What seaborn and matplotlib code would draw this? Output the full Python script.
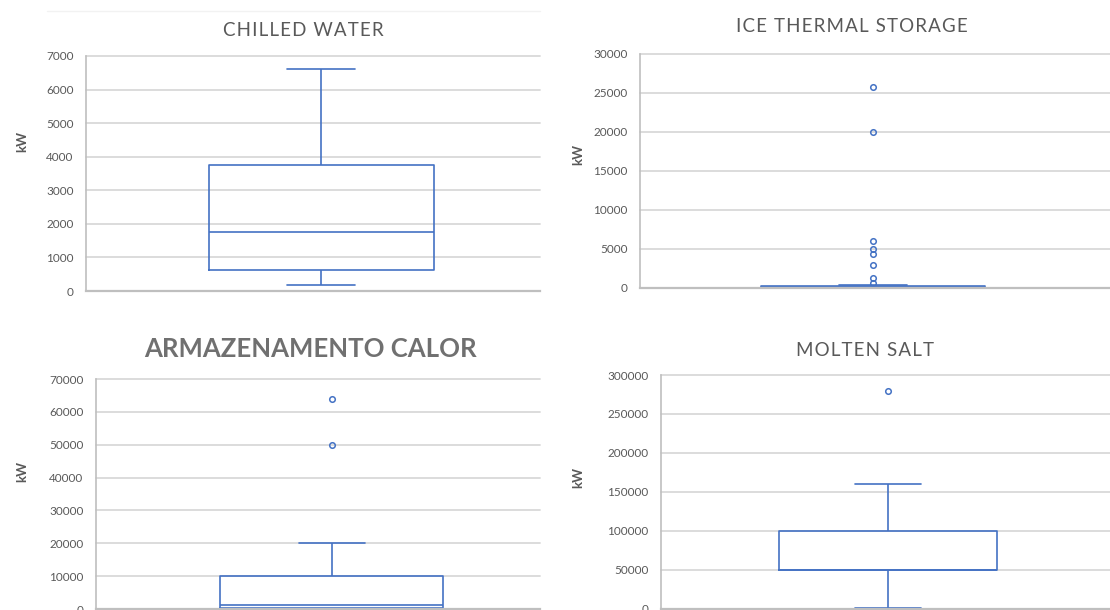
import matplotlib
matplotlib.use("Agg")
import matplotlib.pyplot as plt
import seaborn as sns
import numpy as np

# ---- data (kW) ----
chilled_water = [190, 630, 1750, 3750, 6600]
ice_thermal = [0, 0, 0, 10, 10, 20, 20, 30, 40, 50, 50, 60, 70, 80, 90, 100,
               110, 120, 130, 140, 150, 160, 170, 180, 190, 200, 210, 220, 240,
               250, 250, 400, 620, 1250, 3000, 4400, 5000, 6000, 20000, 25700]
armazenamento = [0, 100, 300, 400, 600, 900, 1200, 2500, 6000, 10000, 20000,
                 50000, 64000]
molten_salt = [1000, 30000, 50000, 50000, 50000, 80000, 100000, 160000, 280000]

titles = ["CHILLED WATER", "ICE THERMAL STORAGE", "ARMAZENAMENTO CALOR", "MOLTEN SALT"]
y_max = [7000, 30000, 70000, 300000]
y_step = [1000, 5000, 10000, 50000]
ylabel = "kW"

sns.set_style("white")
plt.rcParams["font.family"] = ["Lato", "DejaVu Sans"]

W, H = 1110, 610
fig = plt.figure(figsize=(W / 100, H / 100), dpi=100)

BLUE = "#4472C4"
GRID = "#D9D9D9"
TXT = "#595959"

# pixel layout: left, right, top, bottom, box centre x, box width px
layout = [
    (86, 540, 56, 291, 321, 225),
    (640, 1110, 53.5, 288, 873, 224),
    (96, 540, 379, 609, 332, 223),
    (661, 1110, 375, 608.5, 888, 218),
]
# x, y, size, weight, colour, letter-spacing
title_pos = [(303, 31, 13.5, "normal", TXT, True),
             (852, 27, 13.5, "normal", TXT, True),
             (310, 349, 18.5, "bold", "#707070", False),
             (865, 350, 13.5, "normal", TXT, True)]
ylab_pos = [(22, 142), (578, 155), (22, 472), (578, 478)]


def spaced(s):
    return "\u200a".join(s)


datasets = [chilled_water, ice_thermal, armazenamento, molten_salt]
w = 0.45
for i, data in enumerate(datasets):
    L, R, T, B, C, Bw = layout[i]
    ax = fig.add_axes([L / W, 1 - B / H, (R - L) / W, (B - T) / H])
    sns.boxplot(y=data, ax=ax, width=w, fill=False, color=BLUE, linewidth=1.2,
                whis=1.5, capwidths=0.3 * w,
                flierprops=dict(marker="o", markerfacecolor="none",
                                markeredgecolor=BLUE, markersize=4,
                                markeredgewidth=1.1))
    s = Bw / w
    ax.set_xlim(-(C - L) / s, (R - C) / s)
    ax.set_ylim(0, y_max[i])
    ticks = np.arange(0, y_max[i] + 1, y_step[i])
    ax.set_yticks(ticks)
    ax.set_yticklabels([str(int(t)) for t in ticks])
    ax.set_xticks([])
    ax.set_xlabel("")
    ax.set_ylabel("")
    ax.grid(axis="y", color=GRID, linewidth=1.3)
    ax.set_axisbelow(True)
    for g in ax.get_ygridlines():
        g.set_clip_on(False)
    ax.tick_params(axis="y", length=0, pad=9, labelsize=8.5, labelcolor=TXT)
    for sp in ["top", "right"]:
        ax.spines[sp].set_visible(False)
    ax.spines["left"].set_color("#BFBFBF")
    ax.spines["left"].set_linewidth(1.2)
    ax.spines["bottom"].set_color("#BFBFBF")
    ax.spines["bottom"].set_linewidth(1.6)
    tx, ty, fs, fw, fc, sp_ = title_pos[i]
    fig.text(tx / W, 1 - ty / H, spaced(titles[i]) if sp_ else titles[i],
             ha="center", va="center", fontsize=fs, fontweight=fw, color=fc)
    lx, ly = ylab_pos[i]
    fig.text(lx / W, 1 - ly / H, ylabel, ha="center", va="center", rotation=90,
             fontsize=9.5, fontweight="bold", color=TXT)

# faint chart-area border line of the original spreadsheet chart
fig.add_artist(plt.Line2D([47 / W, 540 / W], [1 - 11 / H, 1 - 11 / H],
                          color="#F2F2F2", linewidth=1.0))

fig.savefig("out.png", dpi=100)
